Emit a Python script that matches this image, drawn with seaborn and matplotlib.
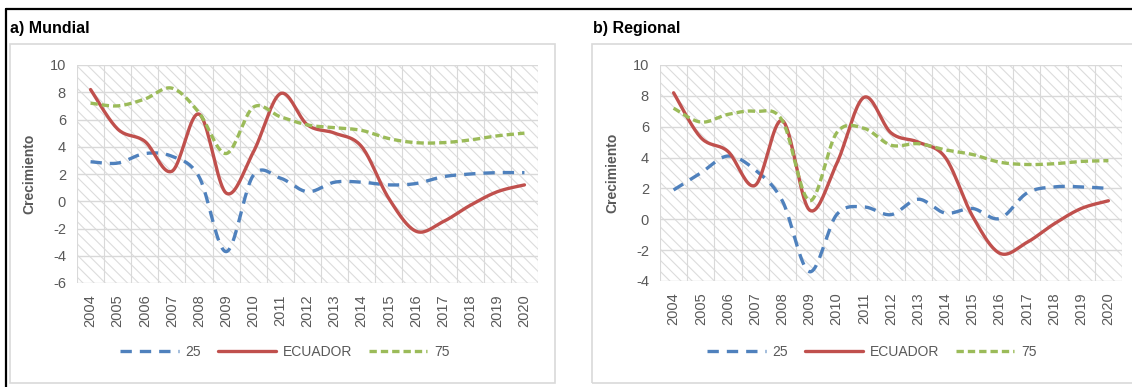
import numpy as np
import pandas as pd
import matplotlib
matplotlib.use("Agg")
import matplotlib.pyplot as plt
import seaborn as sns
from matplotlib.patches import Rectangle
from matplotlib.lines import Line2D

# =========================================================
# 1. DONNÉES
# =========================================================
years = [str(y) for y in range(2004, 2021)]

ecuador = [8.2, 5.3, 4.4, 2.2, 6.4, 0.6, 3.6, 7.9, 5.6, 5.0, 4.0,
           0.2, -2.2, -1.5, -0.3, 0.7, 1.2]

mundial_25 = [2.9, 2.8, 3.5, 3.3, 1.8, -3.7, 1.9, 1.7, 0.7, 1.4, 1.4,
              1.2, 1.3, 1.8, 2.0, 2.1, 2.1]
mundial_75 = [7.2, 7.0, 7.5, 8.3, 6.5, 3.5, 6.9, 6.2, 5.6, 5.4, 5.2,
              4.6, 4.3, 4.3, 4.5, 4.8, 5.0]

regional_25 = [1.9, 3.0, 4.1, 3.2, 1.2, -3.4, 0.3, 0.8, 0.3, 1.3, 0.4,
               0.7, 0.05, 1.7, 2.1, 2.1, 2.0]
regional_75 = [7.2, 6.3, 6.8, 7.0, 6.4, 1.2, 5.6, 5.9, 4.8, 4.9, 4.5,
               4.2, 3.7, 3.55, 3.6, 3.75, 3.8]

panel_titles = ["a) Mundial", "b) Regional"]
y_ticks_a = list(range(-6, 11, 2))
y_ticks_b = list(range(-4, 11, 2))

# =========================================================
# 2. STYLE
# =========================================================
sns.set_theme(style="white")
FONTS = ["Liberation Sans Narrow", "Liberation Sans", "DejaVu Sans"]
plt.rcParams["font.family"] = FONTS
plt.rcParams["hatch.linewidth"] = 0.8

C_BLUE = "#4F81BD"
C_RED = "#C0504D"
C_GREEN = "#9BBB59"
C_GRID = "#D9D9D9"
C_TXT = "#595959"

styles = {
    "25": dict(color=C_BLUE, linestyle=(0, (3.4, 2.4))),
    "ECUADOR": dict(color=C_RED, linestyle="-"),
    "75": dict(color=C_GREEN, linestyle=(0, (2.2, 1.2))),
}


def smooth(y, n=20):
    # lissage type Excel (Bézier) pour le tracé seulement
    y = np.asarray(y, dtype=float)
    x = np.arange(len(y), dtype=float)
    pts = np.column_stack([x, y])
    ext = np.vstack([pts[0], pts, pts[-1]])
    out = []
    t = np.linspace(0, 1, n, endpoint=False)[:, None]
    for i in range(len(pts) - 1):
        p0, p3 = ext[i + 1], ext[i + 2]
        p1 = p0 + (ext[i + 2] - ext[i]) / 6
        p2 = p3 - (ext[i + 3] - ext[i + 1]) / 6
        seg = ((1 - t) ** 3) * p0 + 3 * ((1 - t) ** 2) * t * p1 \
            + 3 * (1 - t) * t ** 2 * p2 + t ** 3 * p3
        out.append(seg)
    out.append(pts[-1][None, :])
    out = np.vstack(out)
    return out[:, 0], out[:, 1]


fig = plt.figure(figsize=(11.32, 3.87), dpi=100)
W, H = 1132, 387


def fx(px):
    return px / W


def fy(py):
    return 1 - py / H


# cadre noir (haut et gauche)
fig.add_artist(Line2D([fx(6), 1], [fy(9), fy(9)], color="black", lw=1.6))
fig.add_artist(Line2D([fx(6), fx(6)], [fy(9), 0], color="black", lw=1.6))

# cadres gris des graphiques
for x0, x1 in [(10, 555), (592, 1140)]:
    fig.add_artist(Rectangle((fx(x0), fy(383)), fx(x1 - x0), fy(44) - fy(383),
                             fill=False, edgecolor=C_GRID, lw=1.2))

panels = [
    dict(title=panel_titles[0], p25=mundial_25, p75=mundial_75, ticks=y_ticks_a,
         box=(77, 538, 65, 283), tx=10, leg_x=285),
    dict(title=panel_titles[1], p25=regional_25, p75=regional_75, ticks=y_ticks_b,
         box=(660, 1122, 65, 281), tx=593, leg_x=872),
]

for p in panels:
    l, r, t, b = p["box"]
    ax = fig.add_axes([fx(l), fy(b), fx(r - l), fy(t) - fy(b)])

    # fond hachuré
    ax.add_patch(Rectangle((0, 0), 1, 1, transform=ax.transAxes, facecolor="white",
                           edgecolor="#DCDCDC", hatch="\\\\\\", lw=0, zorder=0))

    series = [("25", p["p25"]), ("ECUADOR", ecuador), ("75", p["p75"])]
    for name, vals in series:
        xs, ys = smooth(vals)
        sns.lineplot(x=xs, y=ys, ax=ax, sort=False, lw=2.4, label=name,
                     zorder=3, **styles[name])

    ax.set_xlim(-0.5, len(years) - 0.5)
    ax.set_ylim(p["ticks"][0], p["ticks"][-1])
    ax.set_yticks(p["ticks"])
    ax.set_yticklabels([str(v) for v in p["ticks"]], color=C_TXT, fontsize=10.5)
    ax.set_xticks(range(len(years)))
    ax.set_xticklabels(years, rotation=90, color=C_TXT, fontsize=10.5)
    ax.tick_params(axis="both", length=0, pad=8)

    # grille
    for v in p["ticks"]:
        ax.axhline(v, color=C_GRID, lw=1, zorder=1)
    for i in range(len(years) + 1):
        ax.axvline(i - 0.5, color=C_GRID, lw=0.8, zorder=1)
    for s in ax.spines.values():
        s.set_visible(False)

    ax.set_ylabel("Crecimiento", color=C_TXT, fontsize=10, fontweight="bold")
    ax.yaxis.set_label_coords(-0.088, 0.5)
    ax.set_xlabel("")

    handles, labels = ax.get_legend_handles_labels()
    ax.get_legend().remove()
    fig.legend(handles, labels, loc="center", ncol=3, frameon=False,
               bbox_to_anchor=(fx(p["leg_x"]), fy(352)), fontsize=10,
               handlelength=4.2, columnspacing=1.2, handletextpad=0.5,
               labelcolor=C_TXT)

    fig.text(fx(p["tx"]), fy(28), p["title"], fontsize=11.5, fontweight="bold",
             va="center", ha="left", color="black")

fig.savefig("out.png", dpi=100)
